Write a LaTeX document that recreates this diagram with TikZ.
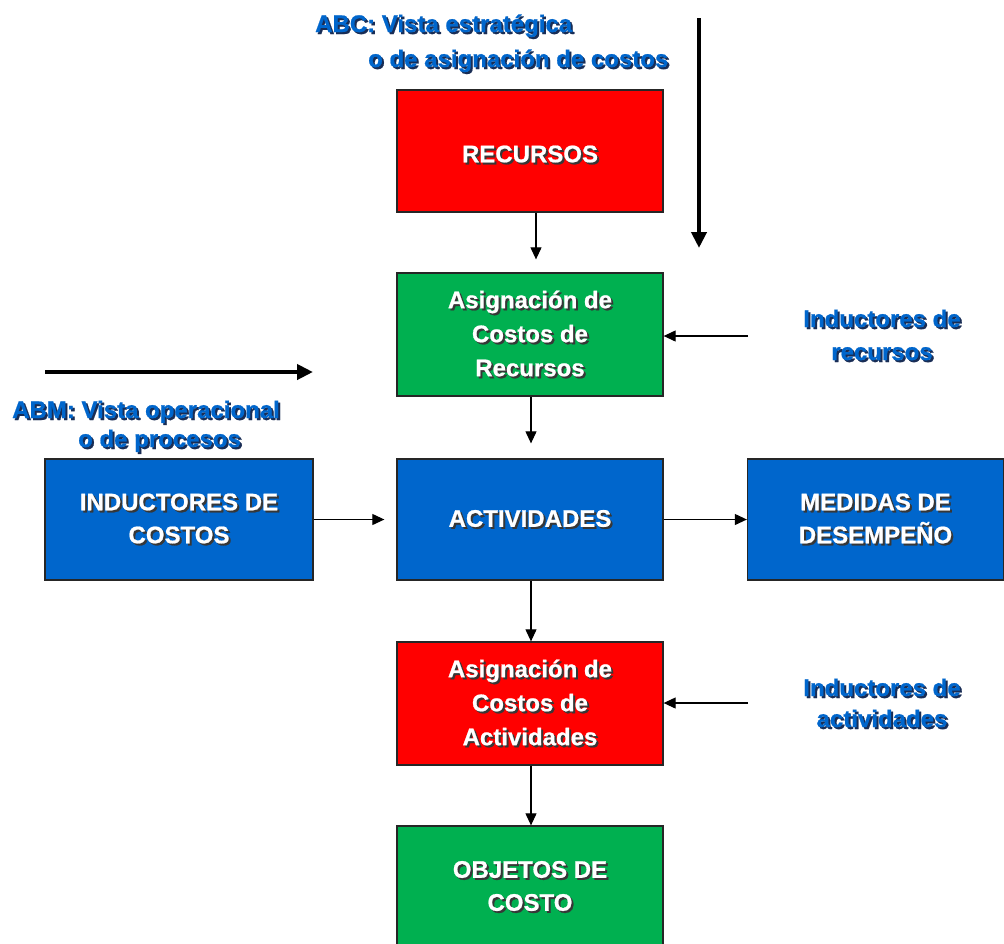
\documentclass[tikz,border=0pt]{standalone}
\usepackage{fontspec}
\setmainfont[BoldFeatures={FakeBold=0.8}]{Liberation Sans}
\usetikzlibrary{arrows.meta}
\definecolor{cred}{RGB}{255,0,0}
\definecolor{cgreen}{RGB}{0,176,80}
\definecolor{cblue}{RGB}{0,102,204}
\definecolor{ctext}{RGB}{0,102,204}
\definecolor{boxshadow}{RGB}{55,55,55}
\definecolor{lblshadow}{RGB}{25,45,85}
\newcommand\shd[1]{\leavevmode\rlap{\kern2pt\raisebox{-2pt}{\textcolor{boxshadow}{#1}}}#1}
\newcommand\shb[1]{\leavevmode\rlap{\kern2pt\raisebox{-2pt}{\textcolor{lblshadow}{#1}}}#1}
\tikzset{
  box/.style={draw=black!85, line width=1.3pt, minimum width=266, minimum height=122,
    inner sep=0pt, text=white, align=center, font=\fontsize{24}{34}\selectfont\bfseries},
  lbl/.style={text=ctext, inner sep=0pt, font=\fontsize{24}{30}\selectfont\bfseries},
  thinarrow/.style={-{Triangle[length=12pt,width=11pt]}, line width=1.1pt},
  bigarrow/.style={-{Triangle[length=16pt,width=15pt]}, line width=4pt},
}
\begin{document}
\begin{tikzpicture}[x=1pt,y=-1pt]
\clip (0,0) rectangle (1004,943);
\fill[white] (0,0) rectangle (1004,943);

% boxes
\node[box, fill=cred] (rec) at (530,151) {\raisebox{-4pt}[\height][\depth]{\shd{RECURSOS}}};
\node[box, fill=cgreen, minimum height=123] (ar) at (530,334.5) {\shd{Asignación de}\\\shd{Costos de}\\\shd{Recursos}};
\node[box, fill=cblue, minimum height=121] (act) at (530,519.5) {\shd{ACTIVIDADES}};
\node[box, fill=cblue, minimum height=121, minimum width=268, font=\fontsize{24}{33}\selectfont\bfseries] (ind) at (179,519.5) {\shd{INDUCTORES DE}\\\shd{COSTOS}};
\node[box, fill=cblue, minimum height=121, minimum width=256, font=\fontsize{24}{33}\selectfont\bfseries] (med) at (875.5,519.5) {\shd{MEDIDAS DE}\\\shd{DESEMPEÑO}};
\node[box, fill=cred, minimum height=123] (aa) at (530,703.5) {\shd{Asignación de}\\\shd{Costos de}\\\shd{Actividades}};
\node[box, fill=cgreen, font=\fontsize{24}{33}\selectfont\bfseries] (obj) at (530,887) {\shd{OBJETOS DE}\\\shd{COSTO}};

% labels
\node[lbl, anchor=base west] (abc1) at (315,32) {\shb{ABC: Vista estratégica}};
\node[lbl, anchor=base west] (abc2) at (368,67) {\shb{o de asignación de costos}};
\node[lbl, anchor=base west] (abm1) at (12,418) {\shb{ABM: Vista operacional}};
\node[lbl, anchor=base west] (abm2) at (78,447) {\shb{o de procesos}};
\node[lbl, anchor=base] (ir1) at (882,327) {\shb{Inductores de}};
\node[lbl, anchor=base] (ir2) at (882,360) {\shb{recursos}};
\node[lbl, anchor=base] (ia1) at (882,696) {\shb{Inductores de}};
\node[lbl, anchor=base] (ia2) at (882,727) {\shb{actividades}};

% connectors
\draw[thinarrow, shorten >=13pt] ([xshift=6pt]rec.south) -- ([xshift=6pt]ar.north);
\draw[thinarrow, shorten >=15pt] ([xshift=1pt]ar.south) -- ([xshift=1pt]act.north);
\draw[thinarrow] ([xshift=1pt]act.south) -- ([xshift=1pt]aa.north);
\draw[thinarrow] ([xshift=1pt]aa.south) -- ([xshift=1pt]obj.north);
\draw[thinarrow, shorten >=12pt] (ind.east) -- (act.west);
\draw[thinarrow] (act.east) -- (med.west);
\coordinate (irs) at (748,336);
\draw[thinarrow] (irs) -- (irs -| ar.east);
\coordinate (ias) at (748,703);
\draw[thinarrow] (ias) -- (ias -| aa.east);

% big arrows
\coordinate (v1) at (699,18);
\coordinate (v2) at (699,248);
\draw[bigarrow] (v1) -- (v2);
\coordinate (h1) at (45,372);
\coordinate (h2) at (313,372);
\draw[bigarrow] (h1) -- (h2);
\end{tikzpicture}
\end{document}
